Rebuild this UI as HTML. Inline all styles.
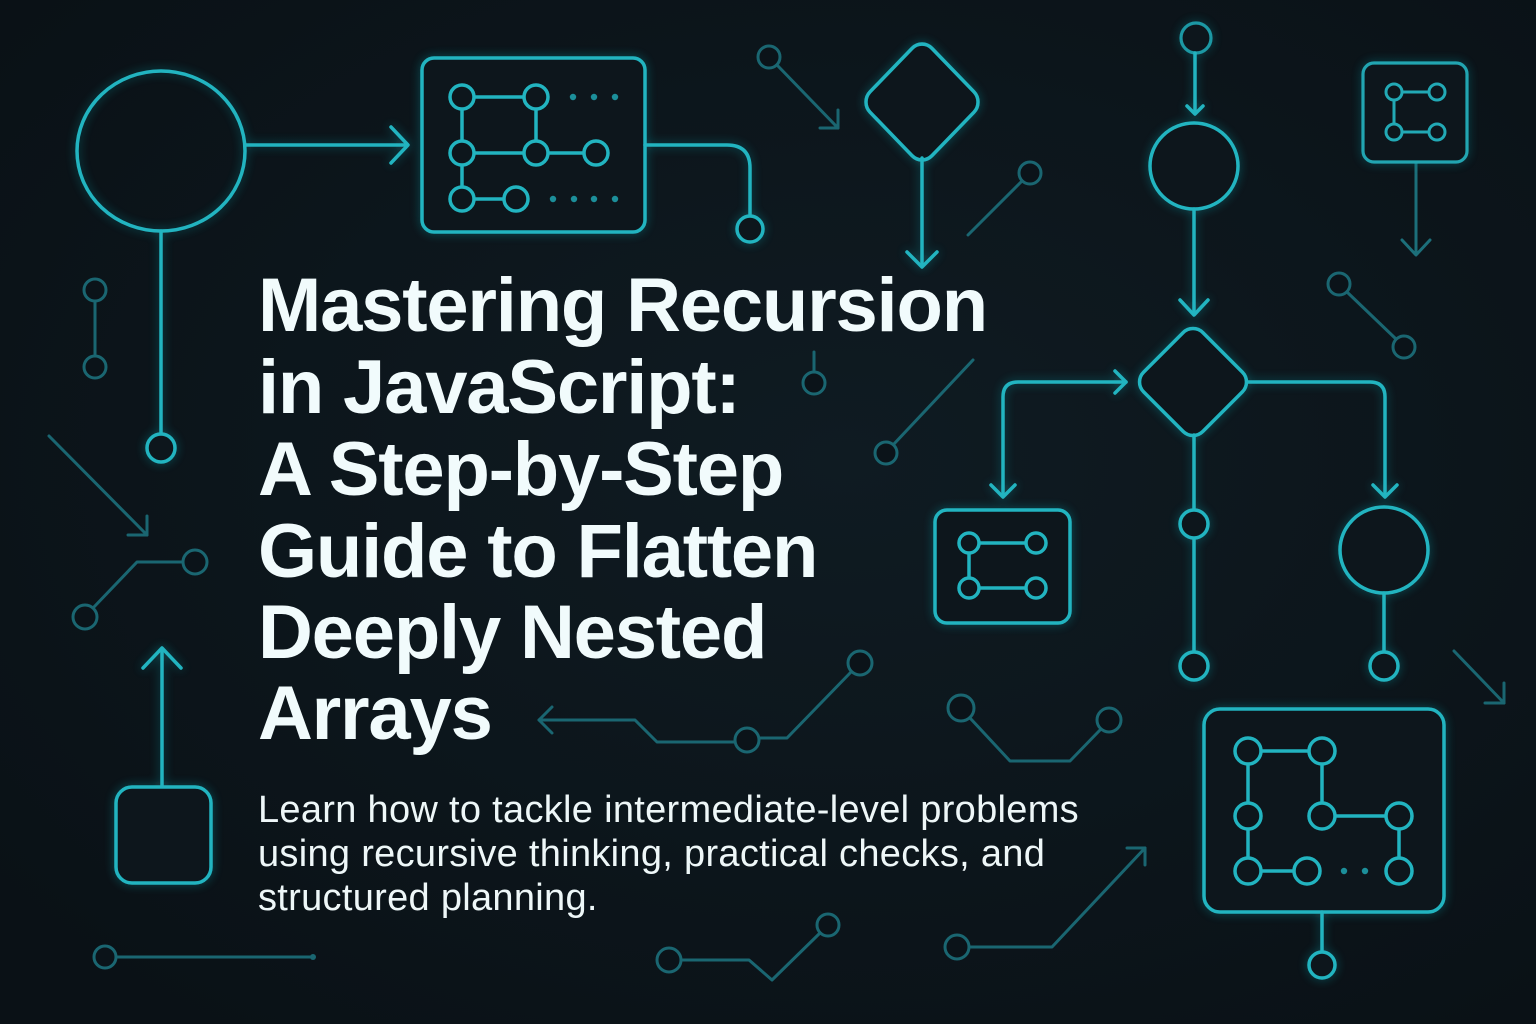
<!DOCTYPE html>
<html>
<head>
<meta charset="utf-8">
<style>
  html,body{margin:0;padding:0;background:#0b1319;}
  body{width:1536px;height:1024px;overflow:hidden;}
  svg{display:block;}
  .b{stroke:#22b4c0;stroke-width:3.5;fill:none;stroke-linecap:round;stroke-linejoin:round;}
  .bf{stroke:#22b4c0;stroke-width:3.5;fill:#0c171d;}
  .m{stroke:#1f98a4;stroke-width:3.2;fill:none;stroke-linecap:round;stroke-linejoin:round;}
  .mf{stroke:#1f98a4;stroke-width:3.2;fill:#0c171d;}
  .d{stroke:#1a6671;stroke-width:3;fill:none;stroke-linecap:round;stroke-linejoin:round;}
  .df{stroke:#1a6671;stroke-width:3;fill:#0b1319;}
  .title{font-family:"Liberation Sans",Arial,sans-serif;font-weight:bold;font-size:76px;letter-spacing:-1.2px;fill:#f1fbfc;}
  .sub{font-family:"Liberation Sans",Arial,sans-serif;font-size:38px;letter-spacing:0.3px;fill:#eef7f8;}
</style>
</head>
<body>
<svg width="1536" height="1024" viewBox="0 0 1536 1024" xmlns="http://www.w3.org/2000/svg">
  <defs>
    <radialGradient id="bg1" cx="0.55" cy="0.45" r="0.7">
      <stop offset="0" stop-color="#0f1b22"/>
      <stop offset="1" stop-color="#0a1116"/>
    </radialGradient>
    <filter id="glow" x="-20%" y="-20%" width="140%" height="140%">
      <feGaussianBlur in="SourceGraphic" stdDeviation="5" result="bl"/>
      <feComponentTransfer in="bl" result="bl2"><feFuncA type="linear" slope="0.45"/></feComponentTransfer>
      <feMerge><feMergeNode in="bl2"/><feMergeNode in="SourceGraphic"/></feMerge>
    </filter>
  </defs>
  <rect width="1536" height="1024" fill="url(#bg1)"/>

  <!-- ===== DIM decorative connectors ===== -->
  <g>
    <!-- a -->
    <line class="d" x1="95" y1="301" x2="95" y2="356"/>
    <circle class="df" cx="95" cy="290" r="11"/>
    <circle class="df" cx="95" cy="367" r="11"/>
    <!-- b diagonal arrow -->
    <line class="d" x1="49" y1="436" x2="147" y2="535"/>
    <polyline class="d" points="147,516 147,535 128,535"/>
    <!-- c -->
    <polyline class="d" points="93,608 137,562 183,562"/>
    <circle class="df" cx="85" cy="617" r="12"/>
    <circle class="df" cx="195" cy="562" r="12"/>
    <!-- d -->
    <line class="d" x1="116" y1="957" x2="313" y2="957"/>
    <circle class="df" cx="105" cy="957" r="11"/>
    <circle cx="313" cy="957" r="3" fill="#1a6671"/>
    <!-- e -->
    <line class="d" x1="777" y1="65" x2="838" y2="128"/>
    <polyline class="d" points="838,110 838,128 820,128"/>
    <circle class="df" cx="769" cy="57" r="11"/>
    <!-- f -->
    <line class="d" x1="1022" y1="181" x2="968" y2="235"/>
    <circle class="df" cx="1030" cy="173" r="11"/>
    <!-- g -->
    <line class="d" x1="814" y1="372" x2="814" y2="352"/>
    <circle class="df" cx="814" cy="383" r="11"/>
    <!-- h -->
    <line class="d" x1="893" y1="445" x2="973" y2="360"/>
    <circle class="df" cx="886" cy="453" r="11"/>
    <!-- i -->
    <line class="d" x1="1347" y1="292" x2="1396" y2="339"/>
    <circle class="df" cx="1339" cy="284" r="11"/>
    <circle class="df" cx="1404" cy="347" r="11"/>
    <!-- j -->
    <line class="d" x1="1454" y1="651" x2="1504" y2="703"/>
    <polyline class="d" points="1504,683 1504,703 1485,703"/>
    <!-- k -->
    <polyline class="d" points="970,718 1010,761 1070,761 1101,729"/>
    <circle class="df" cx="961" cy="708" r="13"/>
    <circle class="df" cx="1109" cy="720" r="12"/>
    <!-- l left arrow -->
    <polyline class="d" points="539,720 635,720 657,742 735,742"/>
    <polyline class="d" points="552,707 539,720 552,733"/>
    <polyline class="d" points="759,738 787,738 852,671"/>
    <circle class="df" cx="747" cy="740" r="12"/>
    <circle class="df" cx="860" cy="663" r="12"/>
    <!-- m -->
    <polyline class="d" points="681,960 749,960 772,980 820,933"/>
    <circle class="df" cx="669" cy="960" r="12"/>
    <circle class="df" cx="828" cy="925" r="11"/>
    <!-- n -->
    <polyline class="d" points="969,947 1052,947 1145,848"/>
    <polyline class="d" points="1127,848 1145,848 1145,865"/>
    <circle class="df" cx="957" cy="947" r="12"/>
    <!-- small box arrow (dim-medium) -->
    <line class="d" x1="1416" y1="162" x2="1416" y2="253" style="stroke:#1c6f7a"/>
    <polyline class="d" points="1402,240 1416,255 1430,240" style="stroke:#1c6f7a"/>
  </g>

  <!-- ===== BRIGHT elements ===== -->
  <g filter="url(#glow)">
    <!-- big circle top-left -->
    <ellipse class="b" cx="161" cy="151" rx="84" ry="80"/>
    <line class="b" x1="245" y1="145" x2="406" y2="145"/>
    <polyline class="b" points="391,127 408,145 391,163"/>
    <line class="b" x1="161" y1="231" x2="161" y2="434"/>
    <circle class="bf" cx="161" cy="448" r="14"/>

    <!-- top-left box -->
    <rect class="bf" x="422" y="58" width="223" height="174" rx="12"/>
    <g class="b">
      <line x1="462" y1="97" x2="536" y2="97"/>
      <line x1="462" y1="97" x2="462" y2="199"/>
      <line x1="536" y1="97" x2="536" y2="153"/>
      <line x1="462" y1="153" x2="596" y2="153"/>
      <line x1="462" y1="199" x2="516" y2="199"/>
    </g>
    <g class="bf">
      <circle cx="462" cy="97" r="12"/><circle cx="536" cy="97" r="12"/>
      <circle cx="462" cy="153" r="12"/><circle cx="536" cy="153" r="12"/><circle cx="596" cy="153" r="12"/>
      <circle cx="462" cy="199" r="12"/><circle cx="516" cy="199" r="12"/>
    </g>
    <g fill="#1d8f9a">
      <circle cx="573" cy="97" r="3.2"/><circle cx="594" cy="97" r="3.2"/><circle cx="615" cy="97" r="3.2"/>
      <circle cx="553" cy="199" r="3.2"/><circle cx="574" cy="199" r="3.2"/><circle cx="594" cy="199" r="3.2"/><circle cx="615" cy="199" r="3.2"/>
    </g>
    <path class="b" d="M645,145 H727 Q750,145 750,168 V216"/>
    <circle class="bf" cx="750" cy="229" r="13"/>

    <!-- top diamond -->
    <g transform="translate(922,102) scale(1,1.035) rotate(45)">
      <rect class="bf" x="-43.7" y="-43.7" width="87.4" height="87.4" rx="14"/>
    </g>
    <line class="b" x1="922" y1="158" x2="922" y2="265"/>
    <polyline class="b" points="907,252 922,267 937,252"/>

    <!-- center column -->
    <circle class="mf" cx="1196" cy="38" r="15"/>
    <line class="b" x1="1195" y1="53" x2="1195" y2="113"/>
    <polyline class="b" points="1187,106 1195,114 1203,106"/>
    <ellipse class="bf" cx="1194" cy="166" rx="44" ry="43"/>
    <line class="b" x1="1194" y1="209" x2="1194" y2="313"/>
    <polyline class="b" points="1180,300 1194,315 1208,300"/>

    <!-- center diamond -->
    <g transform="translate(1193,382) rotate(45)">
      <rect class="bf" x="-41.9" y="-41.9" width="83.8" height="83.8" rx="14"/>
    </g>
    <path class="b" d="M1126,382 H1018 Q1003,382 1003,397 V495"/>
    <polyline class="b" points="1115,371 1126,382 1115,393"/>
    <polyline class="b" points="991,485 1003,497 1015,485"/>
    <path class="b" d="M1247,382 H1370 Q1385,382 1385,397 V495"/>
    <polyline class="b" points="1373,485 1385,497 1397,485"/>
    <line class="b" x1="1194" y1="435" x2="1194" y2="652"/>
    <circle class="bf" cx="1194" cy="524" r="14"/>
    <circle class="bf" cx="1194" cy="666" r="14"/>

    <!-- left small box -->
    <rect class="bf" x="935" y="510" width="135" height="113" rx="12"/>
    <g class="b">
      <line x1="969" y1="543" x2="1036" y2="543"/>
      <line x1="969" y1="543" x2="969" y2="588"/>
      <line x1="969" y1="588" x2="1036" y2="588"/>
    </g>
    <g class="bf">
      <circle cx="969" cy="543" r="10"/><circle cx="1036" cy="543" r="10"/>
      <circle cx="969" cy="588" r="10"/><circle cx="1036" cy="588" r="10"/>
    </g>

    <!-- right circle -->
    <ellipse class="bf" cx="1384" cy="550" rx="44" ry="43"/>
    <line class="b" x1="1384" y1="593" x2="1384" y2="652"/>
    <circle class="bf" cx="1384" cy="666" r="14"/>

    <!-- top-right small box -->
    <rect class="mf" x="1363" y="63" width="104" height="99" rx="11" style="stroke:#21a5b1"/>
    <g class="b" style="stroke:#21a9b5;stroke-width:3">
      <line x1="1394" y1="92" x2="1437" y2="92"/>
      <line x1="1394" y1="92" x2="1394" y2="132"/>
      <line x1="1394" y1="132" x2="1437" y2="132"/>
    </g>
    <g class="bf" style="stroke:#21a9b5;stroke-width:3">
      <circle cx="1394" cy="92" r="8"/><circle cx="1437" cy="92" r="8"/>
      <circle cx="1394" cy="132" r="8"/><circle cx="1437" cy="132" r="8"/>
    </g>

    <!-- bottom-right big box -->
    <rect class="bf" x="1204" y="709" width="240" height="203" rx="16"/>
    <g class="b">
      <line x1="1248" y1="751" x2="1322" y2="751"/>
      <line x1="1248" y1="751" x2="1248" y2="871"/>
      <line x1="1322" y1="751" x2="1322" y2="816"/>
      <line x1="1322" y1="816" x2="1399" y2="816"/>
      <line x1="1399" y1="816" x2="1399" y2="871"/>
      <line x1="1248" y1="871" x2="1307" y2="871"/>
    </g>
    <g class="bf">
      <circle cx="1248" cy="751" r="13"/><circle cx="1322" cy="751" r="13"/>
      <circle cx="1248" cy="816" r="13"/><circle cx="1322" cy="816" r="13"/><circle cx="1399" cy="816" r="13"/>
      <circle cx="1248" cy="871" r="13"/><circle cx="1307" cy="871" r="13"/><circle cx="1399" cy="871" r="13"/>
    </g>
    <g fill="#1d8f9a">
      <circle cx="1344" cy="871" r="3.2"/><circle cx="1365" cy="871" r="3.2"/>
    </g>
    <line class="b" x1="1322" y1="912" x2="1322" y2="952"/>
    <circle class="bf" cx="1322" cy="965" r="13"/>

    <!-- bottom-left up arrow & box -->
    <line class="b" x1="162" y1="786" x2="162" y2="650"/>
    <polyline class="b" points="143,668 162,648 181,668"/>
    <rect class="bf" x="116" y="787" width="95" height="96" rx="16"/>
  </g>

  <!-- ===== TEXT ===== -->
  <text class="title" x="258" y="331">Mastering Recursion</text>
  <text class="title" x="258" y="413">in JavaScript:</text>
  <text class="title" x="258" y="495">A Step-by-Step</text>
  <text class="title" x="258" y="577">Guide to Flatten</text>
  <text class="title" x="258" y="658">Deeply Nested</text>
  <text class="title" x="258" y="739">Arrays</text>

  <text class="sub" x="258" y="822">Learn how to tackle intermediate-level problems</text>
  <text class="sub" x="258" y="866">using recursive thinking, practical checks, and</text>
  <text class="sub" x="258" y="910">structured planning.</text>
</svg>
</body>
</html>
